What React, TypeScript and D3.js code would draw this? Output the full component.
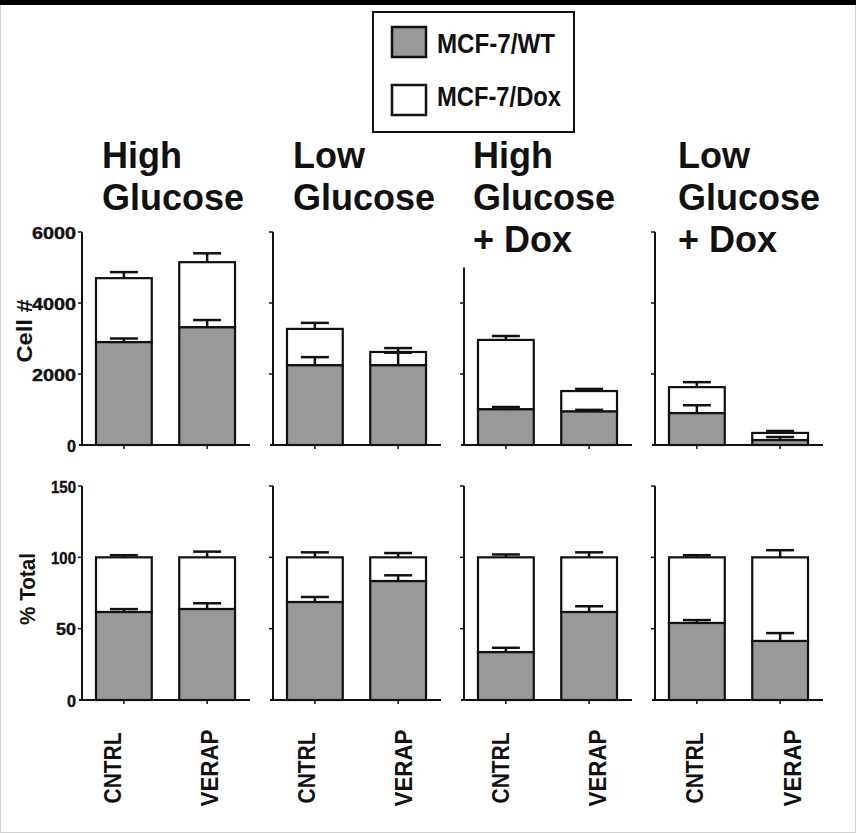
import React from 'react';
import * as d3 from 'd3';

// panel titles and groups
const conditions = [
  ['High', 'Glucose'],
  ['Low', 'Glucose'],
  ['High', 'Glucose', '+ Dox'],
  ['Low', 'Glucose', '+ Dox'],
];
const treatments = ['CNTRL', 'VERAP'];
const seriesNames = ['MCF-7/WT', 'MCF-7/Dox'];

// cell counts, panel by panel (CNTRL, VERAP)
const cellWT = [2900, 3320, 2250, 2250, 1010, 950, 900, 140];
const cellWTErr = [100, 200, 225, 350, 60, 40, 220, 85];
const cellDox = [1800, 1830, 1020, 370, 1950, 570, 730, 200];
const cellTotalErr = [170, 250, 170, 110, 110, 60, 140, 55];

// percent of total
const pctWT = [61.7, 63.8, 68.7, 83.4, 33.6, 61.7, 54, 41.4];
const pctWTErr = [2, 4, 3.5, 4, 3, 4, 2, 5.5];
const pctDox = [38.3, 36.2, 31.3, 16.6, 66.4, 38.3, 46, 58.6];
const pctTotalErr = [1.5, 4, 3.5, 3, 2, 3.5, 1.5, 5];

const cellTicks = [0, 2000, 4000, 6000];
const pctTicks = [0, 50, 100, 150];
const cellAxisTop = [6000, 6000, 5000, 6000];

const FONT = '"Liberation Sans", Arial, Helvetica, sans-serif';
const GRAY = '#99999c';
const W = 856;
const H = 833;
const titleDx = [20, 20, 9, 23];

const panelX = d3.scaleBand<number>().domain([0, 1, 2, 3]).range([82, 82 + 4 * 191]).padding(0);
const barX = d3.scaleBand<string>().domain(treatments).range([0, 167]).paddingInner(0.33).paddingOuter(0.168);
const yCell = d3.scaleLinear().domain([0, 6000]).range([445, 232]);
const yPct = d3.scaleLinear().domain([0, 150]).range([700, 486]);
const labelX = d3.scalePoint<number>().domain(d3.range(8)).range([112, 792]);

type RowProps = {
  y: d3.ScaleLinear<number, number>;
  ticks: number[];
  wt: number[];
  wtErr: number[];
  dox: number[];
  totErr: number[];
  axisTop: number[];
  labelWidths: Record<string, number>;
};

const ErrorBar = ({ x, y0, y1 }: { x: number; y0: number; y1: number }) => (
  <g stroke="#111" strokeWidth={2.5}>
    <line x1={x} x2={x} y1={y0} y2={y1} />
    <line x1={x - 14} x2={x + 14} y1={y1} y2={y1} />
  </g>
);

const Row = ({ y, ticks, wt, wtErr, dox, totErr, axisTop, labelWidths }: RowProps) => {
  const base = y(0);
  return (
    <g>
      {conditions.map((_, p) => {
        const x0 = panelX(p) as number;
        return (
          <g key={p} transform={`translate(${x0},0)`}>
            {treatments.map((t, j) => {
              const i = p * 2 + j;
              const bx = barX(t) as number;
              const bw = barX.bandwidth();
              const cx = bx + bw / 2;
              const total = wt[i] + dox[i];
              return (
                <g key={t}>
                  <rect x={bx} y={y(wt[i])} width={bw} height={base - y(wt[i])} fill={GRAY} stroke="#111" strokeWidth={2.2} />
                  <rect x={bx} y={y(total)} width={bw} height={y(wt[i]) - y(total)} fill="#fff" stroke="#111" strokeWidth={2.2} />
                  <ErrorBar x={cx} y0={y(wt[i])} y1={y(wt[i] + wtErr[i])} />
                  <ErrorBar x={cx} y0={y(total)} y1={y(total + totErr[i])} />
                  <line x1={cx} x2={cx} y1={base} y2={base + 4} stroke="#111" strokeWidth={1.5} />
                </g>
              );
            })}
            {/* axes */}
            <line x1={0} x2={0} y1={y(axisTop[p])} y2={base} stroke="#111" strokeWidth={2} />
            <line x1={-3} x2={168} y1={base} y2={base} stroke="#111" strokeWidth={2} />
            {ticks.filter((v) => v > 0 && v <= axisTop[p]).map((v) => (
              <line key={v} x1={-4} x2={0} y1={y(v)} y2={y(v)} stroke="#111" strokeWidth={1.5} />
            ))}
            {p === 0 &&
              ticks.map((v) => (
                <text
                  key={v}
                  x={-6}
                  y={y(v) + 6.5}
                  textAnchor="end"
                  fontFamily={FONT}
                  fontWeight="bold"
                  fontSize={17}
                  textLength={labelWidths[String(v)]}
                  lengthAdjust="spacingAndGlyphs"
                  fill="#111"
                  stroke="#111"
                  strokeWidth={0.4}
                >
                  {v}
                </text>
              ))}
          </g>
        );
      })}
    </g>
  );
};

const App = () => {
  const xLabels = conditions.flatMap(() => treatments);
  return (
    <svg width={W} height={H} style={{ position: 'absolute', left: 0, top: 0, background: '#fff' }}>
      <rect x={0.5} y={0.5} width={W - 1} height={H - 1} fill="#fff" stroke="#d0d0d0" />
      <rect x={0} y={0} width={W} height={5} fill="#000" />

      {/* legend */}
      <rect x={373} y={12} width={201} height={120} fill="#fff" stroke="#111" strokeWidth={2} />
      {seriesNames.map((s, i) => (
        <g key={s}>
          <rect x={392} y={i === 0 ? 27 : 85} width={34} height={30} fill={i === 0 ? GRAY : '#fff'} stroke="#111" strokeWidth={2.5} />
          <text
            x={437}
            y={i === 0 ? 53 : 106}
            fontFamily={FONT}
            fontWeight="bold"
            fontSize={27}
            textLength={i === 0 ? 118 : 124}
            lengthAdjust="spacingAndGlyphs"
            fill="#111"
          >
            {s}
          </text>
        </g>
      ))}

      {/* panel titles */}
      {conditions.map((lines, p) => (
        <text key={p} fontFamily={FONT} fontWeight="bold" fontSize={36} fill="#111">
          {lines.map((l, k) => (
            <tspan key={k} x={(panelX(p) as number) + titleDx[p]} y={168 + k * 42}>
              {l}
            </tspan>
          ))}
        </text>
      ))}

      <Row
        y={yCell}
        ticks={cellTicks}
        wt={cellWT}
        wtErr={cellWTErr}
        dox={cellDox}
        totErr={cellTotalErr}
        axisTop={cellAxisTop}
        labelWidths={{ '0': 9, '2000': 44, '4000': 44, '6000': 44 }}
      />
      <Row
        y={yPct}
        ticks={pctTicks}
        wt={pctWT}
        wtErr={pctWTErr}
        dox={pctDox}
        totErr={pctTotalErr}
        axisTop={[150, 150, 150, 150]}
        labelWidths={{ '0': 9, '50': 20, '100': 25, '150': 25 }}
      />

      {/* y titles */}
      <text transform="translate(32,331) rotate(-90)" textAnchor="middle" fontFamily={FONT} fontWeight="bold" fontSize={22} textLength={63} lengthAdjust="spacingAndGlyphs" fill="#111">
        Cell #
      </text>
      <text transform="translate(35,589) rotate(-90)" textAnchor="middle" fontFamily={FONT} fontWeight="bold" fontSize={22} textLength={72} lengthAdjust="spacingAndGlyphs" fill="#111">
        % Total
      </text>

      {/* x labels */}
      {xLabels.map((l, i) => (
        <text
          key={i}
          transform={`translate(${(labelX(i) as number) + 8.5},768) rotate(-90)`}
          textAnchor="middle"
          fontFamily={FONT}
          fontWeight="bold"
          fontSize={23}
          textLength={l === 'CNTRL' ? 71 : 77}
          lengthAdjust="spacingAndGlyphs"
          fill="#111"
        >
          {l}
        </text>
      ))}
    </svg>
  );
};

export default App;
